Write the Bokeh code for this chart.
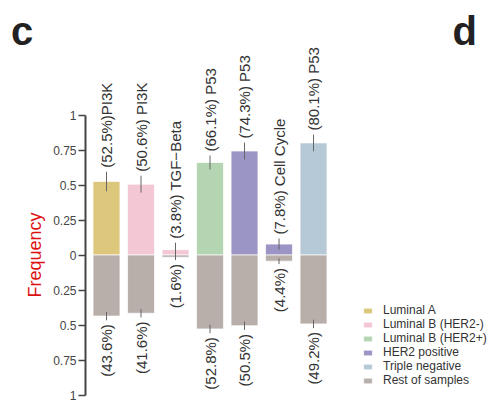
import math
from bokeh.plotting import figure
from bokeh.layouts import row
from bokeh.models import (ColumnDataSource, FixedTicker, CustomJSTickFormatter,
                          Legend, LegendItem, Range1d)
from bokeh.core.properties import value
from bokeh.embed import file_html
from bokeh.resources import INLINE

# ---- data ----
positions = [1, 2, 3, 4, 5, 6, 7]
subtypes = ["Luminal A", "Luminal B (HER2-)", "Luminal B (HER2-)", "Luminal B (HER2+)",
            "HER2 positive", "HER2 positive", "Triple negative"]
pathways = ["PI3K", "PI3K", "TGF\u2212Beta", "P53", "P53", "Cell Cycle", "P53"]
top_freq = [0.525, 0.506, 0.038, 0.661, 0.743, 0.078, 0.801]
top_err = [0.07, 0.06, 0.05, 0.05, 0.06, 0.04, 0.06]
top_text = ["(52.5%)PI3K", "(50.6%) PI3K", "(3.8%) TGF\u2212Beta", "(66.1%) P53",
            "(74.3%) P53", "(7.8%) Cell Cycle", "(80.1%) P53"]
rest_freq = [0.436, 0.416, 0.016, 0.528, 0.505, 0.044, 0.492]
rest_err = [0.03, 0.03, 0.02, 0.03, 0.03, 0.02, 0.03]
rest_text = ["(43.6%)", "(41.6%)", "(1.6%)", "(52.8%)", "(50.5%)", "(4.4%)", "(49.2%)"]
legend_names = ["Luminal A", "Luminal B (HER2-)", "Luminal B (HER2+)",
                "HER2 positive", "Triple negative", "Rest of samples"]
legend_colors = ["#dcc77c", "#f3c7d3", "#b4d5b1", "#9a95c5", "#b6c9d7", "#b8afab"]
y_ticks = [-1, -0.75, -0.5, -0.25, 0, 0.25, 0.5, 0.75, 1]

color_of = dict(zip(legend_names, legend_colors))
FONT = "Liberation Sans"
H = 406
y_range = Range1d(-1.082, 1.818)

# ---- left strip: panel letter and axis title ----
s = figure(width=46, height=H, output_backend="svg", toolbar_location=None,
           x_axis_location=None, y_axis_location=None,
           x_range=Range1d(0, 46), y_range=y_range,
           min_border_left=0, min_border_right=0, min_border_top=0, min_border_bottom=0)
s.outline_line_color = None
s.grid.visible = False
s.text(x=[10.6], y=[1.597], text=["c"], text_font=value(FONT), text_font_size="40px",
       text_font_style="bold", text_color="#222222", text_baseline="alphabetic",
       text_align="left")
s.text(x=[34], y=[0.0], text=["Frequency"], angle=math.pi / 2, text_font=value(FONT),
       text_font_size="18px", text_color="#dd1111", text_baseline="middle",
       text_align="center")

# ---- main chart ----
p = figure(width=443, height=H, output_backend="svg", toolbar_location=None,
           x_axis_location=None, y_axis_location="left",
           x_range=Range1d(0.3913, 12.10), y_range=y_range,
           min_border_left=39, min_border_right=0, min_border_top=0, min_border_bottom=0)
p.outline_line_color = None
p.grid.visible = False

BAR_W = 0.78
renderers = {}
for name in legend_names[:-1]:
    idx = [i for i, st in enumerate(subtypes) if st == name]
    src = ColumnDataSource(dict(x=[positions[i] for i in idx], top=[top_freq[i] for i in idx]))
    renderers[name] = p.vbar(x="x", top="top", bottom=0, width=BAR_W, source=src,
                             fill_color=color_of[name], line_color="white", line_alpha=0.7,
                             line_width=1)
rest_src = ColumnDataSource(dict(x=positions, bottom=[-v for v in rest_freq]))
renderers["Rest of samples"] = p.vbar(x="x", top=0, bottom="bottom", width=BAR_W, source=rest_src,
                                      fill_color=color_of["Rest of samples"], line_color="white",
                                      line_alpha=0.7, line_width=1)

# error bars
p.segment(x0=positions, x1=positions,
          y0=[v - e for v, e in zip(top_freq, top_err)],
          y1=[v + e for v, e in zip(top_freq, top_err)], line_color="#666666", line_width=1)
p.segment(x0=positions, x1=positions,
          y0=[-(v - e) for v, e in zip(rest_freq, rest_err)],
          y1=[-(v + e) for v, e in zip(rest_freq, rest_err)], line_color="#666666", line_width=1)

# rotated labels
lab_top = ColumnDataSource(dict(x=positions, y=[v + e for v, e in zip(top_freq, top_err)], t=top_text))
p.text(x="x", y="y", text="t", source=lab_top, angle=math.pi / 2, text_align="left",
       text_baseline="middle", y_offset=-4, text_font=value(FONT), text_font_size="15px",
       text_color="#333333")
lab_bot = ColumnDataSource(dict(x=positions, y=[-(v + e) for v, e in zip(rest_freq, rest_err)], t=rest_text))
p.text(x="x", y="y", text="t", source=lab_bot, angle=math.pi / 2, text_align="right",
       text_baseline="middle", y_offset=4, text_font=value(FONT), text_font_size="15px",
       text_color="#333333")

# panel letter d
p.text(x=[11.03], y=[1.597], text=["d"], text_font=value(FONT), text_font_size="40px",
       text_font_style="bold", text_color="#222222", text_baseline="alphabetic",
       text_align="left")

# axis
ax = p.yaxis[0]
ax.ticker = FixedTicker(ticks=y_ticks)
ax.formatter = CustomJSTickFormatter(code="return String(Math.abs(tick));")
ax.bounds = (-1, 1)
ax.axis_line_color = "#444444"
ax.axis_line_width = 2
ax.major_tick_line_color = "#444444"
ax.major_tick_line_width = 1.5
ax.major_tick_out = 7
ax.major_tick_in = 0
ax.minor_tick_line_color = None
ax.major_label_standoff = 2
ax.major_label_text_font = FONT
ax.major_label_text_font_size = "12px"
ax.major_label_text_color = "#444444"

legend = Legend(items=[LegendItem(label=n, renderers=[renderers[n]]) for n in legend_names],
                location=(277, 19), orientation="vertical")
legend.background_fill_alpha = 0
legend.border_line_color = None
legend.margin = 0
legend.padding = 0
legend.spacing = 0
legend.glyph_width = 11
legend.glyph_height = 7
legend.label_height = 11
legend.label_standoff = 10
legend.label_text_font = FONT
legend.label_text_font_size = "12px"
legend.label_text_color = "#333333"
legend.label_text_baseline = "middle"
p.add_layout(legend, "center")

layout = row(s, p, spacing=0)
open("out.html", "w").write(file_html(layout, INLINE))
